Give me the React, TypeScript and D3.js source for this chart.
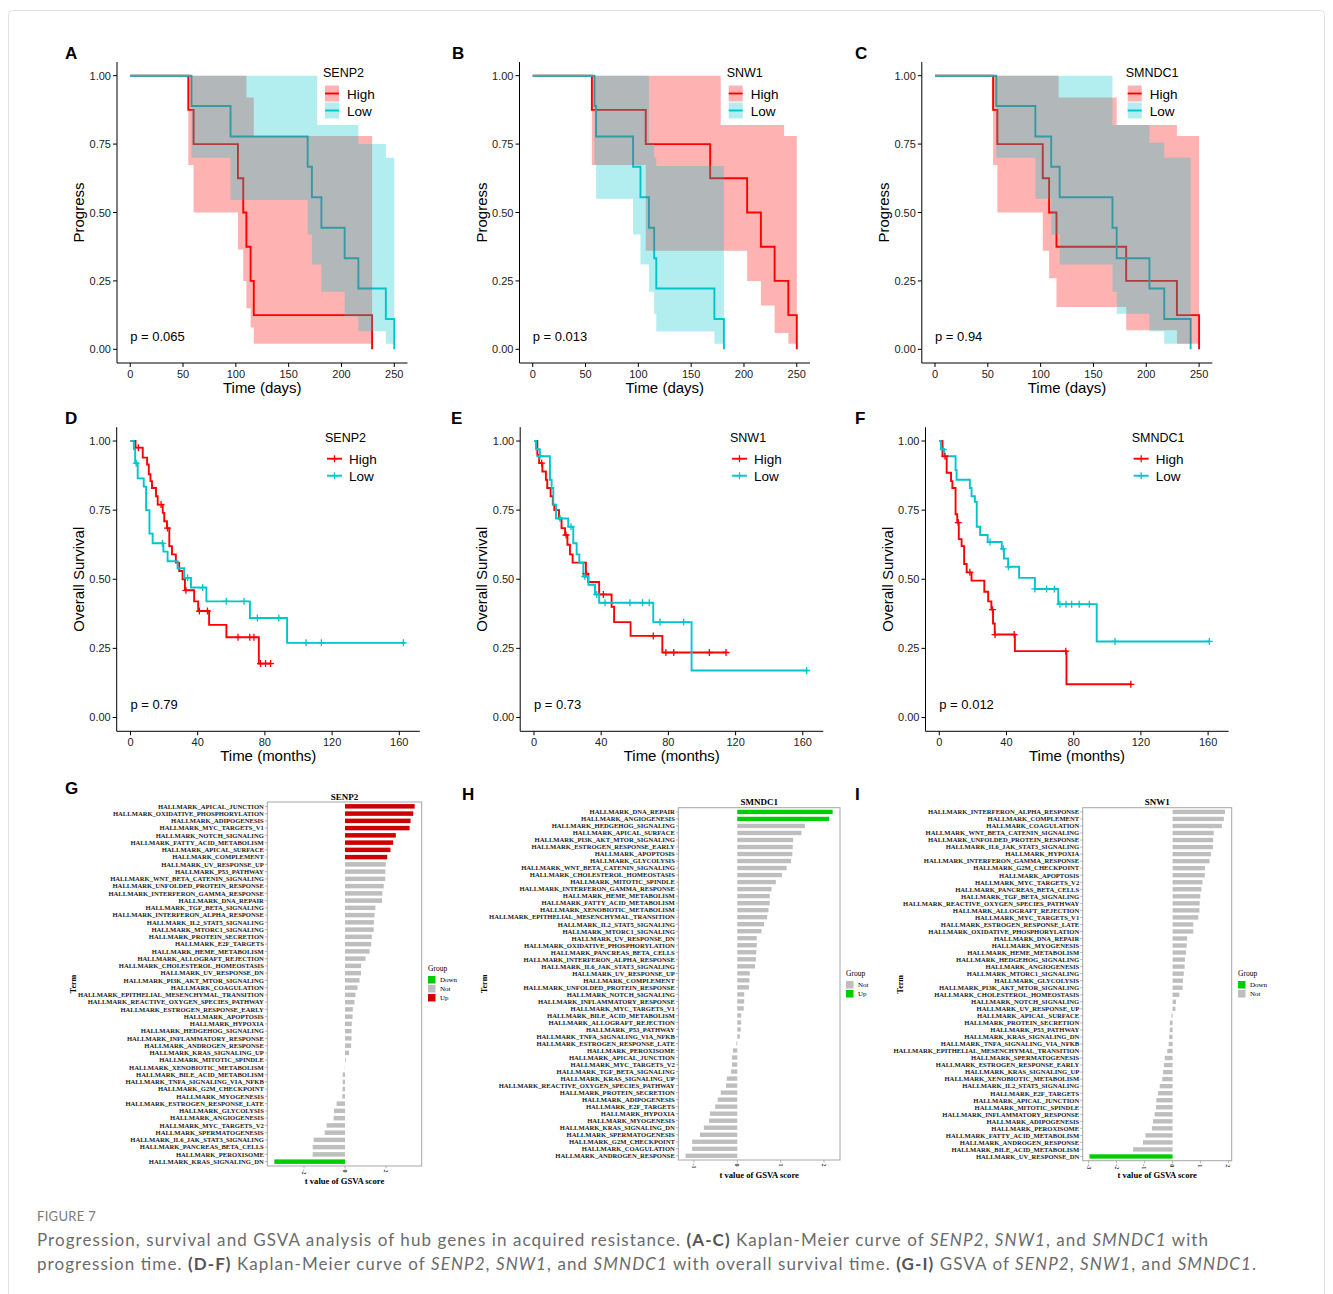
import * as d3 from 'd3';

type Pt = [number, number];
type Ci = [number, number, number];

// ---------- A-C: progression (days); steps [time, survival], bands [time, lower, upper]
const progSenp2High: Pt[] = [[0, 1], [55, 0.875], [60, 0.75], [102, 0.625], [107, 0.5], [110, 0.375], [114, 0.25], [117, 0.125], [229, 0]];
const progSenp2HighCI: Ci[] = [[55, 0.674, 1], [60, 0.5, 1], [102, 0.365, 1], [107, 0.25, 1], [110, 0.15, 0.92], [114, 0.08, 0.92], [117, 0.02, 0.78], [229, 0.02, 0.78]];
const progSenp2Low: Pt[] = [[0, 1], [58, 0.889], [95, 0.778], [168, 0.667], [172, 0.556], [181, 0.444], [203, 0.333], [216, 0.222], [242, 0.111], [250, 0]];
const progSenp2LowCI: Ci[] = [[58, 0.7, 1], [95, 0.546, 1], [168, 0.42, 1], [172, 0.31, 1], [177, 0.31, 0.82], [181, 0.21, 0.82], [203, 0.12, 0.82], [216, 0.066, 0.75], [242, 0.02, 0.7], [250, 0.02, 0.7]];

const progSnw1High: Pt[] = [[0, 1], [56, 0.875], [107, 0.75], [168, 0.625], [203, 0.5], [216, 0.375], [229, 0.25], [242, 0.125], [250, 0]];
const progSnw1HighCI: Ci[] = [[56, 0.674, 1], [107, 0.36, 1], [178, 0.36, 0.82], [203, 0.25, 0.82], [216, 0.16, 0.82], [229, 0.06, 0.82], [238, 0.06, 0.78], [242, 0.02, 0.78], [250, 0.02, 0.78]];
const progSnw1Low: Pt[] = [[0, 1], [58.5, 0.889], [60, 0.778], [95, 0.667], [102, 0.556], [110, 0.444], [115, 0.333], [117, 0.222], [172, 0.111], [181, 0]];
const progSnw1LowCI: Ci[] = [[58.5, 0.674, 1], [60, 0.55, 1], [95, 0.42, 1], [102, 0.31, 1], [110, 0.21, 0.75], [115, 0.13, 0.7], [117, 0.065, 0.67], [172, 0.02, 0.67], [181, 0.02, 0.67]];

const progSmndc1High: Pt[] = [[0, 1], [55, 0.875], [59, 0.75], [102, 0.625], [108, 0.5], [115, 0.375], [181, 0.25], [229, 0.125], [250, 0]];
const progSmndc1HighCI: Ci[] = [[55, 0.674, 1], [59, 0.5, 1], [102, 0.36, 1], [108, 0.26, 1], [115, 0.155, 1], [117, 0.155, 0.92], [172, 0.155, 0.82], [181, 0.07, 0.82], [229, 0.02, 0.78], [250, 0.02, 0.78]];
const progSmndc1Low: Pt[] = [[0, 1], [58, 0.889], [95, 0.778], [110, 0.667], [118, 0.556], [168, 0.444], [172, 0.333], [203, 0.222], [217, 0.111], [242, 0]];
const progSmndc1LowCI: Ci[] = [[58, 0.7, 1], [95, 0.55, 1], [110, 0.42, 1], [118, 0.31, 1], [168, 0.21, 0.82], [172, 0.13, 0.82], [203, 0.065, 0.755], [217, 0.02, 0.7], [242, 0.02, 0.7]];

// ---------- D-F: overall survival (months)
const osSenp2High: Pt[] = [[0, 1], [3, 0.976], [7.3, 0.94], [9.9, 0.915], [10.9, 0.88], [11.9, 0.855], [12.8, 0.83], [15.2, 0.8], [16.2, 0.77], [19.2, 0.74], [20.1, 0.71], [21.7, 0.685], [23.1, 0.62], [24.7, 0.59], [27, 0.56], [29, 0.53], [31, 0.5], [32.4, 0.46], [37.9, 0.42], [40.3, 0.385], [46.8, 0.335], [57.1, 0.29], [76.4, 0.195], [83.4, 0.195]];
const osSenp2HighCens = [4.7, 18.2, 22, 33, 41, 45.8, 64, 71, 73.5, 77.4, 80.4, 83.4];
const osSenp2Low: Pt[] = [[0, 1], [2, 0.97], [2.8, 0.92], [4.3, 0.865], [7.9, 0.835], [9.3, 0.75], [11.3, 0.665], [13.2, 0.63], [19.6, 0.6], [22.1, 0.565], [28, 0.54], [32, 0.505], [36, 0.47], [45.2, 0.42], [71.1, 0.36], [93.2, 0.27], [163.4, 0.27]];
const osSenp2LowCens = [3.4, 19, 34, 43, 57, 67.6, 75.5, 88.3, 104.5, 113.6, 162.4];

const osSnw1High: Pt[] = [[0, 1], [2, 0.95], [3.1, 0.92], [5, 0.89], [7.1, 0.86], [7.9, 0.83], [9.9, 0.8], [11.2, 0.77], [12.1, 0.75], [14.9, 0.72], [16.4, 0.685], [18.5, 0.66], [19.9, 0.625], [21.4, 0.59], [23, 0.56], [30.9, 0.52], [32.3, 0.49], [38.8, 0.445], [46.2, 0.4], [47.7, 0.345], [57.5, 0.295], [76.4, 0.235], [114.6, 0.235]];
const osSnw1HighCens = [4.6, 19.1, 30.9, 41.3, 71, 78.5, 83.2, 104.4, 114.3];
const osSnw1Low: Pt[] = [[0, 1], [1.2, 0.97], [3.5, 0.945], [9.5, 0.86], [10.5, 0.83], [11.5, 0.77], [13.1, 0.72], [20.4, 0.69], [23.4, 0.63], [25.4, 0.59], [27, 0.56], [29.4, 0.51], [32.4, 0.48], [36.3, 0.445], [38.8, 0.415], [71, 0.345], [93.8, 0.17], [162.7, 0.17]];
const osSnw1LowCens = [3.5, 15.5, 22, 30.3, 37.3, 42.3, 57.1, 64.6, 68.6, 75, 89.1, 162.3];

const osSmndc1High: Pt[] = [[0, 1], [1.9, 0.945], [4.4, 0.885], [7, 0.855], [7.8, 0.83], [9.7, 0.735], [10.7, 0.705], [11.6, 0.645], [13.3, 0.62], [14.8, 0.555], [16.3, 0.525], [19.2, 0.495], [26.8, 0.455], [29.1, 0.42], [31, 0.39], [32, 0.34], [33, 0.3], [45, 0.24], [75.7, 0.12], [114.5, 0.12]];
const osSmndc1HighCens = [3.4, 11.3, 18.2, 31.7, 33.2, 44.6, 75.3, 114];
const osSmndc1Low: Pt[] = [[0, 1], [1, 0.97], [2.9, 0.945], [9.7, 0.895], [10.3, 0.86], [18.2, 0.83], [19.2, 0.8], [21.2, 0.78], [22.3, 0.69], [24.3, 0.66], [28.8, 0.635], [37.2, 0.61], [38.5, 0.575], [41, 0.545], [47.5, 0.505], [56.9, 0.465], [70.8, 0.41], [93.7, 0.275], [161, 0.275]];
const osSmndc1LowCens = [2.4, 30.2, 38.1, 41.1, 56.9, 63.9, 68.5, 71.8, 75.4, 78.8, 83.3, 89.3, 104.6, 160.7];

const progTicks = [0, 50, 100, 150, 200, 250];
const osTicks = [0, 40, 80, 120, 160];
const survTicks = [0, 0.25, 0.5, 0.75, 1];

// ---------- G-I: GSVA t values (terms listed top to bottom)
const termsSenp2 = ['APICAL_JUNCTION', 'OXIDATIVE_PHOSPHORYLATION', 'ADIPOGENESIS', 'MYC_TARGETS_V1', 'NOTCH_SIGNALING', 'FATTY_ACID_METABOLISM', 'APICAL_SURFACE', 'COMPLEMENT', 'UV_RESPONSE_UP', 'P53_PATHWAY', 'WNT_BETA_CATENIN_SIGNALING', 'UNFOLDED_PROTEIN_RESPONSE', 'INTERFERON_GAMMA_RESPONSE', 'DNA_REPAIR', 'TGF_BETA_SIGNALING', 'INTERFERON_ALPHA_RESPONSE', 'IL2_STAT5_SIGNALING', 'MTORC1_SIGNALING', 'PROTEIN_SECRETION', 'E2F_TARGETS', 'HEME_METABOLISM', 'ALLOGRAFT_REJECTION', 'CHOLESTEROL_HOMEOSTASIS', 'UV_RESPONSE_DN', 'PI3K_AKT_MTOR_SIGNALING', 'COAGULATION', 'EPITHELIAL_MESENCHYMAL_TRANSITION', 'REACTIVE_OXYGEN_SPECIES_PATHWAY', 'ESTROGEN_RESPONSE_EARLY', 'APOPTOSIS', 'HYPOXIA', 'HEDGEHOG_SIGNALING', 'INFLAMMATORY_RESPONSE', 'ANDROGEN_RESPONSE', 'KRAS_SIGNALING_UP', 'MITOTIC_SPINDLE', 'XENOBIOTIC_METABOLISM', 'BILE_ACID_METABOLISM', 'TNFA_SIGNALING_VIA_NFKB', 'G2M_CHECKPOINT', 'MYOGENESIS', 'ESTROGEN_RESPONSE_LATE', 'GLYCOLYSIS', 'ANGIOGENESIS', 'MYC_TARGETS_V2', 'SPERMATOGENESIS', 'IL6_JAK_STAT3_SIGNALING', 'PANCREAS_BETA_CELLS', 'PEROXISOME', 'KRAS_SIGNALING_DN'];
const tSenp2 = [3.4, 3.33, 3.2, 3.15, 2.48, 2.35, 2.22, 2.06, 1.99, 1.97, 1.96, 1.89, 1.82, 1.81, 1.48, 1.44, 1.41, 1.4, 1.31, 1.28, 1.2, 1.0, 0.79, 0.78, 0.71, 0.61, 0.51, 0.46, 0.38, 0.37, 0.33, 0.32, 0.32, 0.3, 0.2, 0.04, -0.01, -0.11, -0.11, -0.12, -0.13, -0.41, -0.54, -0.56, -0.9, -0.99, -1.53, -1.58, -1.58, -3.45];

const termsSmndc1 = ['DNA_REPAIR', 'ANGIOGENESIS', 'HEDGEHOG_SIGNALING', 'APICAL_SURFACE', 'PI3K_AKT_MTOR_SIGNALING', 'ESTROGEN_RESPONSE_EARLY', 'APOPTOSIS', 'GLYCOLYSIS', 'WNT_BETA_CATENIN_SIGNALING', 'CHOLESTEROL_HOMEOSTASIS', 'MITOTIC_SPINDLE', 'INTERFERON_GAMMA_RESPONSE', 'HEME_METABOLISM', 'FATTY_ACID_METABOLISM', 'XENOBIOTIC_METABOLISM', 'EPITHELIAL_MESENCHYMAL_TRANSITION', 'IL2_STAT5_SIGNALING', 'MTORC1_SIGNALING', 'UV_RESPONSE_DN', 'OXIDATIVE_PHOSPHORYLATION', 'PANCREAS_BETA_CELLS', 'INTERFERON_ALPHA_RESPONSE', 'IL6_JAK_STAT3_SIGNALING', 'UV_RESPONSE_UP', 'COMPLEMENT', 'UNFOLDED_PROTEIN_RESPONSE', 'NOTCH_SIGNALING', 'INFLAMMATORY_RESPONSE', 'MYC_TARGETS_V1', 'BILE_ACID_METABOLISM', 'ALLOGRAFT_REJECTION', 'P53_PATHWAY', 'TNFA_SIGNALING_VIA_NFKB', 'ESTROGEN_RESPONSE_LATE', 'PEROXISOME', 'APICAL_JUNCTION', 'MYC_TARGETS_V2', 'TGF_BETA_SIGNALING', 'KRAS_SIGNALING_UP', 'REACTIVE_OXYGEN_SPECIES_PATHWAY', 'PROTEIN_SECRETION', 'ADIPOGENESIS', 'E2F_TARGETS', 'HYPOXIA', 'MYOGENESIS', 'KRAS_SIGNALING_DN', 'SPERMATOGENESIS', 'G2M_CHECKPOINT', 'COAGULATION', 'ANDROGEN_RESPONSE'];
const tSmndc1 = [2.2, 2.12, 1.56, 1.48, 1.29, 1.28, 1.27, 1.24, 1.14, 1.03, 0.89, 0.79, 0.75, 0.75, 0.72, 0.69, 0.62, 0.56, 0.45, 0.45, 0.44, 0.43, 0.41, 0.29, 0.28, 0.27, 0.16, 0.16, 0.15, 0.09, 0.09, 0.08, 0.06, -0.02, -0.1, -0.12, -0.12, -0.14, -0.24, -0.26, -0.38, -0.45, -0.51, -0.63, -0.65, -0.77, -0.86, -1.04, -1.04, -1.19];

const termsSnw1 = ['INTERFERON_ALPHA_RESPONSE', 'COMPLEMENT', 'COAGULATION', 'WNT_BETA_CATENIN_SIGNALING', 'UNFOLDED_PROTEIN_RESPONSE', 'IL6_JAK_STAT3_SIGNALING', 'HYPOXIA', 'INTERFERON_GAMMA_RESPONSE', 'G2M_CHECKPOINT', 'APOPTOSIS', 'MYC_TARGETS_V2', 'PANCREAS_BETA_CELLS', 'TGF_BETA_SIGNALING', 'REACTIVE_OXYGEN_SPECIES_PATHWAY', 'ALLOGRAFT_REJECTION', 'MYC_TARGETS_V1', 'ESTROGEN_RESPONSE_LATE', 'OXIDATIVE_PHOSPHORYLATION', 'DNA_REPAIR', 'MYOGENESIS', 'HEME_METABOLISM', 'HEDGEHOG_SIGNALING', 'ANGIOGENESIS', 'MTORC1_SIGNALING', 'GLYCOLYSIS', 'PI3K_AKT_MTOR_SIGNALING', 'CHOLESTEROL_HOMEOSTASIS', 'NOTCH_SIGNALING', 'UV_RESPONSE_UP', 'APICAL_SURFACE', 'PROTEIN_SECRETION', 'P53_PATHWAY', 'KRAS_SIGNALING_DN', 'TNFA_SIGNALING_VIA_NFKB', 'EPITHELIAL_MESENCHYMAL_TRANSITION', 'SPERMATOGENESIS', 'ESTROGEN_RESPONSE_EARLY', 'KRAS_SIGNALING_UP', 'XENOBIOTIC_METABOLISM', 'IL2_STAT5_SIGNALING', 'E2F_TARGETS', 'APICAL_JUNCTION', 'MITOTIC_SPINDLE', 'INFLAMMATORY_RESPONSE', 'ADIPOGENESIS', 'PEROXISOME', 'FATTY_ACID_METABOLISM', 'ANDROGEN_RESPONSE', 'BILE_ACID_METABOLISM', 'UV_RESPONSE_DN'];
const tSnw1 = [1.87, 1.83, 1.76, 1.47, 1.45, 1.44, 1.37, 1.32, 1.16, 1.15, 1.07, 1.03, 0.99, 0.97, 0.96, 0.92, 0.74, 0.74, 0.52, 0.5, 0.48, 0.44, 0.43, 0.4, 0.37, 0.36, 0.24, 0.12, 0.1, -0.04, -0.1, -0.1, -0.12, -0.14, -0.19, -0.28, -0.31, -0.34, -0.37, -0.46, -0.52, -0.58, -0.59, -0.64, -0.7, -0.74, -0.97, -1.06, -1.41, -2.97];

const RED = '#FF0000';
const CYAN = '#00C5CD';
const GREEN = '#00CD00';
const GREY = '#BEBEBE';
const DARKRED = '#CD0000';
const SANS = '"Liberation Sans", Arial, sans-serif';
const SERIF = '"Liberation Serif", "Times New Roman", serif';

function stepAt(curve: Pt[], t: number) {
  let s = curve[0][1];
  for (const [ti, si] of curve) {
    if (ti <= t) s = si;
    else break;
  }
  return s;
}

function Cross({ x, y, color, r = 3.5 }: { x: number; y: number; color: string; r?: number }) {
  return (
    <path d={`M${x - r},${y}H${x + r}M${x},${y - r}V${y + r}`} stroke={color} strokeWidth={1.3} fill="none" />
  );
}

type KmProps = {
  left: number; right: number; top: number; bottom: number;
  xDomain: [number, number]; xTicks: number[];
  letter: string; letterX: number; gene: string; legendX: number;
  high: Pt[]; low: Pt[]; highCI?: Ci[]; lowCI?: Ci[];
  highCens?: number[]; lowCens?: number[];
  pval: string; yLabel: string; xLabel: string;
};

function KmPanel(k: KmProps) {
  const x = d3.scaleLinear().domain(k.xDomain).range([k.left, k.right]);
  const y = d3.scaleLinear().domain([-0.05, 1.05]).range([k.bottom, k.top]);
  const line = d3.line<Pt>().x(d => x(d[0])).y(d => y(d[1])).curve(d3.curveStepAfter);
  const area = d3.area<Ci>().x(d => x(d[0])).y0(d => y(d[1])).y1(d => y(d[2])).curve(d3.curveStepAfter);
  const hasCI = !!k.highCI;
  const lx = k.legendX;
  const k1 = k.top + 31.5;
  const k2 = k.top + 48.5;
  return (
    <g fontFamily={SANS}>
      <text x={k.letterX} y={k.top - 3} fontSize={17} fontWeight="bold">{k.letter}</text>
      {/* curves, then the ribbons on top */}
      <path d={line(k.high) ?? ''} fill="none" stroke={RED} strokeWidth={1.9} />
      <path d={line(k.low) ?? ''} fill="none" stroke={CYAN} strokeWidth={1.9} />
      {hasCI && <path d={area(k.highCI!) ?? ''} fill={RED} fillOpacity={0.3} />}
      {hasCI && <path d={area(k.lowCI!) ?? ''} fill={CYAN} fillOpacity={0.3} />}
      {(k.highCens ?? []).map((t, i) => <Cross key={'h' + i} x={x(t)} y={y(stepAt(k.high, t))} color={RED} />)}
      {(k.lowCens ?? []).map((t, i) => <Cross key={'l' + i} x={x(t)} y={y(stepAt(k.low, t))} color={CYAN} />)}
      {/* axes */}
      <line x1={k.left} x2={k.left} y1={k.top} y2={k.bottom} stroke="#000" strokeWidth={1} />
      <line x1={k.left} x2={k.right} y1={k.bottom} y2={k.bottom} stroke="#000" strokeWidth={1} />
      {survTicks.map(v => (
        <g key={v}>
          <line x1={k.left - 4} x2={k.left} y1={y(v)} y2={y(v)} stroke="#000" />
          <text x={k.left - 6} y={y(v) + 4} fontSize={11} textAnchor="end" fill="#222">{v.toFixed(2)}</text>
        </g>
      ))}
      {k.xTicks.map(v => (
        <g key={v}>
          <line x1={x(v)} x2={x(v)} y1={k.bottom} y2={k.bottom + 4} stroke="#000" />
          <text x={x(v)} y={k.bottom + 14.5} fontSize={11} textAnchor="middle" fill="#222">{v}</text>
        </g>
      ))}
      <text x={(k.left + k.right) / 2} y={k.bottom + 29.5} fontSize={15} textAnchor="middle">{k.xLabel}</text>
      <text transform={`translate(${k.left - 33},${(k.top + k.bottom) / 2}) rotate(-90)`} fontSize={15} textAnchor="middle">{k.yLabel}</text>
      <text x={x(0)} y={y(0) - 8} fontSize={13}>{k.pval}</text>
      {/* legend */}
      <text x={lx} y={k.top + 15} fontSize={12.5}>{k.gene}</text>
      {hasCI ? (
        <g>
          <rect x={lx + 2} y={k1 - 8} width={14} height={16} fill={RED} fillOpacity={0.3} />
          <rect x={lx + 2} y={k2 - 8} width={14} height={16} fill={CYAN} fillOpacity={0.3} />
          <line x1={lx + 2} x2={lx + 16} y1={k1} y2={k1} stroke={RED} strokeWidth={1.9} />
          <line x1={lx + 2} x2={lx + 16} y1={k2} y2={k2} stroke={CYAN} strokeWidth={1.9} />
        </g>
      ) : (
        <g>
          <line x1={lx + 2} x2={lx + 17} y1={k1} y2={k1} stroke={RED} strokeWidth={1.9} />
          <line x1={lx + 2} x2={lx + 17} y1={k2} y2={k2} stroke={CYAN} strokeWidth={1.9} />
          <Cross x={lx + 9.5} y={k1} color={RED} />
          <Cross x={lx + 9.5} y={k2} color={CYAN} />
        </g>
      )}
      <text x={lx + 24} y={k1 + 5} fontSize={13.5}>High</text>
      <text x={lx + 24} y={k2 + 5} fontSize={13.5}>Low</text>
    </g>
  );
}

type GsvaProps = {
  left: number; right: number; top: number; bottom: number;
  title: string; terms: string[]; values: number[]; ticks: number[];
  levels: string[]; colors: Record<string, string>;
  letter: string; letterX: number; legendX: number; legendY: number; termX: number;
};

function GsvaPanel(g: GsvaProps) {
  const [lo, hi] = d3.extent(g.values) as [number, number];
  const span = hi - lo;
  const x = d3.scaleLinear().domain([lo - 0.05 * span, hi + 0.05 * span]).range([g.left, g.right]);
  const y = d3.scalePoint<string>().domain(g.terms).range([g.top, g.bottom]).padding(0.6);
  const bh = y.step() * 0.62;
  const group = (v: number) => (v > 2 ? 'Up' : v < -2 ? 'Down' : 'Not');
  return (
    <g fontFamily={SERIF}>
      <text x={g.letterX} y={g.top - 8} fontSize={17} fontWeight="bold" fontFamily={SANS}>{g.letter}</text>
      <rect x={g.left} y={g.top} width={g.right - g.left} height={g.bottom - g.top} fill="#fff" stroke="#A6A6A6" strokeWidth={1} />
      {g.terms.map((t, i) => {
        const v = g.values[i];
        const yy = y(t)!;
        return (
          <g key={t}>
            <rect x={Math.min(x(0), x(v))} y={yy - bh / 2} width={Math.abs(x(v) - x(0))} height={bh} fill={g.colors[group(v)]} />
            <line x1={g.left - 2.5} x2={g.left} y1={yy} y2={yy} stroke="#888" strokeWidth={0.6} />
            <text x={g.left - 3.5} y={yy} dy="0.35em" fontSize={6.6} fontWeight="bold" textAnchor="end" fill="#222">{'HALLMARK_' + t}</text>
          </g>
        );
      })}
      {g.ticks.map(v => (
        <g key={v}>
          <line x1={x(v)} x2={x(v)} y1={g.bottom} y2={g.bottom + 2.5} stroke="#888" strokeWidth={0.6} />
          <text transform={`translate(${x(v)},${g.bottom + 3.5}) rotate(90)`} dy="0.35em" fontSize={6} fontWeight="bold" fill="#333">{v}</text>
        </g>
      ))}
      <text x={(g.left + g.right) / 2} y={g.top - 2.5} fontSize={9} fontWeight="bold" textAnchor="middle">{g.title}</text>
      <text x={(g.left + g.right) / 2} y={g.bottom + 17.5} fontSize={8.6} fontWeight="bold" textAnchor="middle">t value of GSVA score</text>
      <text transform={`translate(${g.termX},${(g.top + g.bottom) / 2}) rotate(-90)`} fontSize={8} fontWeight="bold" textAnchor="middle">Term</text>
      <text x={g.legendX} y={g.legendY} fontSize={7.5}>Group</text>
      {g.levels.map((lv, i) => (
        <g key={lv}>
          <rect x={g.legendX} y={g.legendY + 5 + i * 9} width={7.5} height={7.5} fill={g.colors[lv]} />
          <text x={g.legendX + 12} y={g.legendY + 8.75 + i * 9} dy="0.35em" fontSize={7}>{lv}</text>
        </g>
      ))}
    </g>
  );
}

function Caption() {
  const it = (s: string) => <tspan fontStyle="italic">{s}</tspan>;
  const b = (s: string) => <tspan fontWeight="bold" fill="#555">{s}</tspan>;
  return (
    <g fontFamily='Lato, "Open Sans", sans-serif' fill="#6b6b6b">
      <text x={37} y={1221} fontSize={13} fill="#7a7a7a" letterSpacing={0.3}>FIGURE 7</text>
      <text x={37} y={1246} fontSize={17} textLength={1171} lengthAdjust="spacing">
        Progression, survival and GSVA analysis of hub genes in acquired resistance. {b('(A-C)')} Kaplan-Meier curve of {it('SENP2')}, {it('SNW1')}, and {it('SMNDC1')} with
      </text>
      <text x={37} y={1270} fontSize={17} textLength={1219} lengthAdjust="spacing">
        progression time. {b('(D-F)')} Kaplan-Meier curve of {it('SENP2')}, {it('SNW1')}, and {it('SMNDC1')} with overall survival time. {b('(G-I)')} GSVA of {it('SENP2')}, {it('SNW1')}, and {it('SMNDC1')}.
      </text>
    </g>
  );
}

export default function App() {
  const progDom: [number, number] = [-12.5, 262.5];
  const osDom: [number, number] = [-8.2, 172.2];
  return (
    <svg width={1333} height={1294} style={{ position: 'absolute', left: 0, top: 0, background: '#fff' }}>
      <rect x={8.5} y={10.5} width={1316} height={1300} rx={4} fill="#fff" stroke="#e2e2e2" />
      <KmPanel left={117} right={407.5} top={62} bottom={363} xDomain={progDom} xTicks={progTicks}
        letter="A" letterX={65} gene="SENP2" legendX={323} high={progSenp2High} low={progSenp2Low}
        highCI={progSenp2HighCI} lowCI={progSenp2LowCI} pval="p = 0.065" yLabel="Progress" xLabel="Time (days)" />
      <KmPanel left={519.5} right={810} top={62} bottom={363} xDomain={progDom} xTicks={progTicks}
        letter="B" letterX={452} gene="SNW1" legendX={726.7} high={progSnw1High} low={progSnw1Low}
        highCI={progSnw1HighCI} lowCI={progSnw1LowCI} pval="p = 0.013" yLabel="Progress" xLabel="Time (days)" />
      <KmPanel left={921.8} right={1212.3} top={62} bottom={363} xDomain={progDom} xTicks={progTicks}
        letter="C" letterX={855} gene="SMNDC1" legendX={1125.7} high={progSmndc1High} low={progSmndc1Low}
        highCI={progSmndc1HighCI} lowCI={progSmndc1LowCI} pval="p = 0.94" yLabel="Progress" xLabel="Time (days)" />

      <KmPanel left={116.7} right={419.8} top={427.2} bottom={731.3} xDomain={osDom} xTicks={osTicks}
        letter="D" letterX={65} gene="SENP2" legendX={325} high={osSenp2High} low={osSenp2Low}
        highCens={osSenp2HighCens} lowCens={osSenp2LowCens} pval="p = 0.79" yLabel="Overall Survival" xLabel="Time (months)" />
      <KmPanel left={520.2} right={823.3} top={427.2} bottom={731.3} xDomain={osDom} xTicks={osTicks}
        letter="E" letterX={451} gene="SNW1" legendX={730} high={osSnw1High} low={osSnw1Low}
        highCens={osSnw1HighCens} lowCens={osSnw1LowCens} pval="p = 0.73" yLabel="Overall Survival" xLabel="Time (months)" />
      <KmPanel left={925.5} right={1228.6} top={427.2} bottom={731.3} xDomain={osDom} xTicks={osTicks}
        letter="F" letterX={855} gene="SMNDC1" legendX={1131.7} high={osSmndc1High} low={osSmndc1Low}
        highCens={osSmndc1HighCens} lowCens={osSmndc1LowCens} pval="p = 0.012" yLabel="Overall Survival" xLabel="Time (months)" />

      <GsvaPanel left={267.3} right={421.7} top={802} bottom={1166} title="SENP2" terms={termsSenp2} values={tSenp2}
        ticks={[-2, 0, 2]} levels={['Down', 'Not', 'Up']} colors={{ Down: GREEN, Not: GREY, Up: DARKRED }}
        letter="G" letterX={65} legendX={428} legendY={971} termX={76} />
      <GsvaPanel left={678.3} right={840} top={807.7} bottom={1160} title="SMNDC1" terms={termsSmndc1} values={tSmndc1}
        ticks={[-1, 0, 1, 2]} levels={['Not', 'Up']} colors={{ Not: GREY, Up: GREEN }}
        letter="H" letterX={462} legendX={846} legendY={976} termX={487} />
      <GsvaPanel left={1082.7} right={1231.7} top={807.7} bottom={1160.7} title="SNW1" terms={termsSnw1} values={tSnw1}
        ticks={[-3, -2, -1, 0, 1, 2]} levels={['Down', 'Not']} colors={{ Down: GREEN, Not: GREY }}
        letter="I" letterX={855} legendX={1238} legendY={976} termX={903} />

      <Caption />
    </svg>
  );
}
